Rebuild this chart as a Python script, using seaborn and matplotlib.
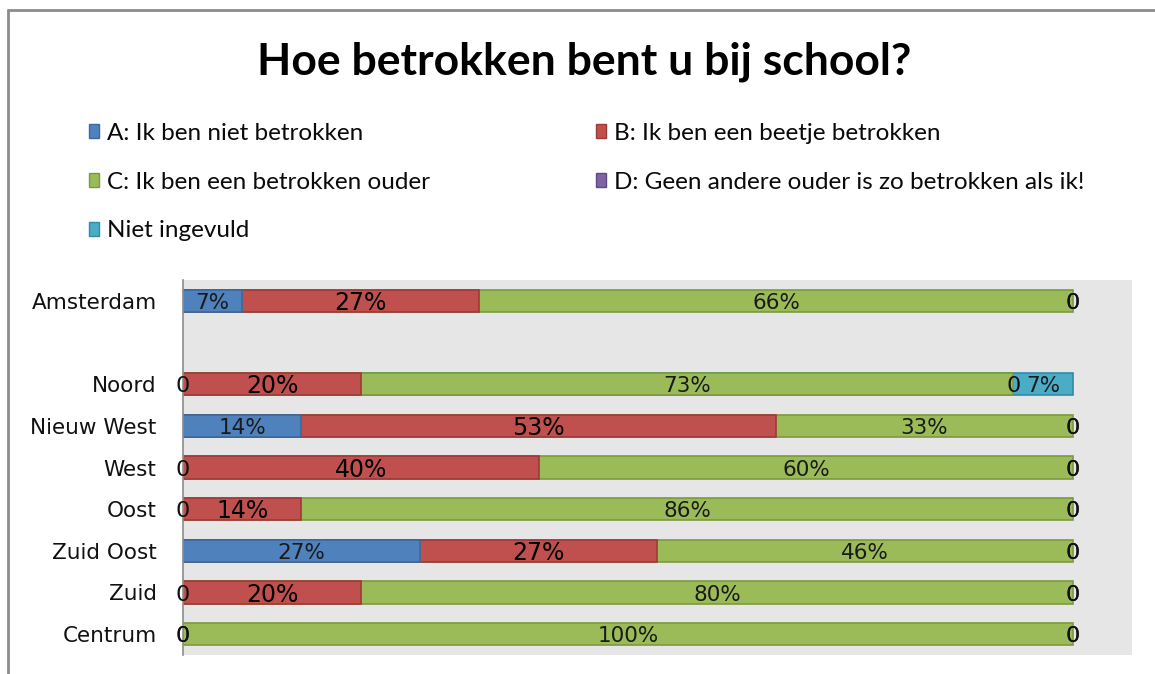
import numpy as np
import pandas as pd
import matplotlib.pyplot as plt
import seaborn as sns
from matplotlib.patches import Patch
from matplotlib.lines import Line2D

# data; the empty row is a spacer between Amsterdam and the districts
regions = ["Amsterdam", "", "Noord", "Nieuw West", "West", "Oost", "Zuid Oost", "Zuid", "Centrum"]
series = ["A: Ik ben niet betrokken", "B: Ik ben een beetje betrokken",
          "C: Ik ben een betrokken ouder", "D: Geen andere ouder is zo betrokken als ik!",
          "Niet ingevuld"]

# segment shares (%) as measured from the bar lengths
a_niet = [6.6, np.nan, 0, 13.3, 0, 0, 26.6, 0, 0]
b_beetje = [26.7, np.nan, 20.0, 53.3, 40.0, 13.3, 26.7, 20.0, 0]
c_betrokken = [66.7, np.nan, 73.3, 33.4, 60.0, 86.7, 46.7, 80.0, 100]
d_geen = [0, np.nan, 0, 0, 0, 0, 0, 0, 0]
niet_ingevuld = [0, np.nan, 6.7, 0, 0, 0, 0, 0, 0]

# data labels as printed on the chart
lab_a = ["7%", "", "0", "14%", "0", "0", "27%", "0", "0"]
lab_b = ["27%", "", "20%", "53%", "40%", "14%", "27%", "20%", "0"]
lab_c = ["66%", "", "73%", "33%", "60%", "86%", "46%", "80%", "100%"]
lab_d = ["0", "", "0", "0", "0", "0", "0", "0", "0"]
lab_ni = ["0", "", "7%", "0", "0", "0", "0", "0", "0"]

colors = ["#4F81BD", "#C0504D", "#9BBB59", "#8064A2", "#4BACC6"]
edges = ["#3A6A9E", "#9E3A38", "#7A9A3E", "#5F4A80", "#2F8DA6"]

sns.set_theme(style="white")
plt.rcParams["font.family"] = ["DejaVu Sans"]

df = pd.DataFrame({"region": regions})
vals = [a_niet, b_beetje, c_betrokken, d_geen, niet_ingevuld]
labels = [lab_a, lab_b, lab_c, lab_d, lab_ni]
cum = np.zeros(len(regions))
for i, v in enumerate(vals):
    v = np.array(v, dtype=float)
    df[f"seg{i}"] = v
    df[f"left{i}"] = cum
    cum = cum + v
    # only draw segments that have a width
    df[f"draw{i}"] = np.where(v > 0, cum, np.nan)

fig = plt.figure(figsize=(11.55, 6.74), dpi=100)
ax = fig.add_axes([183 / 1155, 1 - 655 / 674, (1132 - 183) / 1155, (655 - 280) / 674])
ax.set_facecolor("#E6E6E6")

# layered cumulative bars, right-most series first
for i in reversed(range(len(vals))):
    col = f"draw{i}"
    if df[col].notna().sum() == 0:
        continue
    sns.barplot(data=df, x=col, y="region", order=regions, orient="h",
                color=colors[i], edgecolor=edges[i], linewidth=1.2,
                saturation=1, width=0.53, errorbar=None, ax=ax)

# value labels, Excel style: zero segments get a "0"
for r, reg in enumerate(regions):
    if reg == "":
        continue
    for i in range(len(vals)):
        v = df.loc[r, f"seg{i}"]
        xc = df.loc[r, f"left{i}"] + v / 2
        txt = labels[i][r]
        if v == 0:
            fs, c = 16, "#111111"
        else:
            fs = 17 if i == 1 else 15.5
            c = "#000000" if i == 1 else "#1a1a1a"
        ax.text(xc, r + 0.05, txt, ha="center", va="center", fontsize=fs, color=c)

ax.set_xlim(0, 100 * (1132 - 183) / 890)
ax.set_ylim(len(regions) - 0.5, -0.5)
ax.set_xlabel("")
ax.set_ylabel("")
ax.set_xticks([])
ax.tick_params(axis="y", length=0, pad=19, labelsize=15.5, labelcolor="#111111")
for s in ["top", "right", "bottom"]:
    ax.spines[s].set_visible(False)
ax.spines["left"].set_color("#8C8C8C")
ax.spines["left"].set_linewidth(1.2)

fig.suptitle("Hoe betrokken bent u bij school?", x=584 / 1155, y=1 - 62 / 674,
             va="center", fontsize=32, fontweight="bold", color="black",
             family=["Lato", "DejaVu Sans"])

handles = [Patch(facecolor=colors[i], edgecolor=edges[i], linewidth=1) for i in range(5)]
leg_kw = dict(frameon=False, handlelength=0.4, handleheight=0.5, handletextpad=0.35,
              labelspacing=1.14, borderaxespad=0, borderpad=0,
              prop={"family": ["Lato", "DejaVu Sans"], "size": 17.5})
leg1 = fig.legend([handles[0], handles[2], handles[4]], [series[0], series[2], series[4]],
                  loc="upper left", bbox_to_anchor=(89 / 1155, 1 - 123 / 674), **leg_kw)
leg2 = fig.legend([handles[1], handles[3]], [series[1], series[3]],
                  loc="upper left", bbox_to_anchor=(596 / 1155, 1 - 123 / 674), **leg_kw)
for leg in (leg1, leg2):
    for t in leg.get_texts():
        t.set_color("#0a0a0a")

# chart frame (top and left edges visible in the screenshot)
fig.add_artist(Line2D([8 / 1155, 8 / 1155], [0, 1 - 10 / 674], transform=fig.transFigure,
                      color="#8C8C8C", lw=2))
fig.add_artist(Line2D([8 / 1155, 1], [1 - 10 / 674, 1 - 10 / 674], transform=fig.transFigure,
                      color="#8C8C8C", lw=2))

fig.savefig("out.png", dpi=100)
